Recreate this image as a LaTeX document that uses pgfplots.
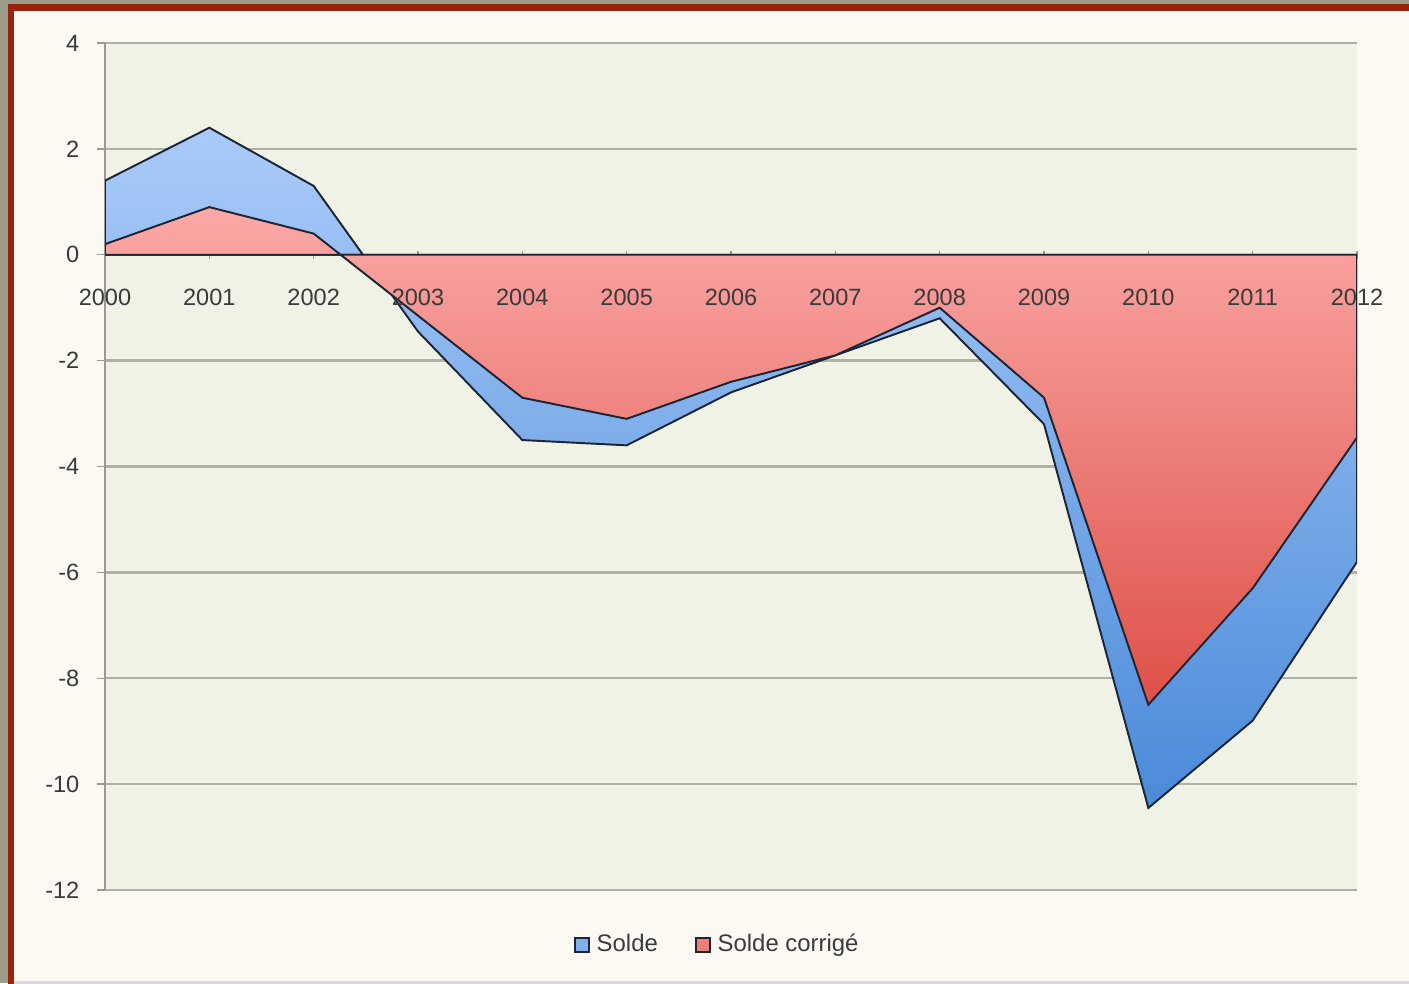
\documentclass[border=0pt]{standalone}
\usepackage{fontspec}
\setmainfont{Liberation Sans}
\usepackage{pgfplots}
\pgfplotsset{compat=1.18}
\definecolor{framegray}{HTML}{9C9B88}
\definecolor{framered}{HTML}{9A2310}
\definecolor{cream}{HTML}{FCF9F3}
\definecolor{plotbg}{HTML}{EFF2E4}
\definecolor{gridc}{HTML}{B0B0A6}
\definecolor{axisc}{HTML}{9A9A92}
\definecolor{tickc}{HTML}{3A3A3A}
\definecolor{bluetop}{HTML}{AACBF9}
\definecolor{bluebot}{HTML}{4A8AD8}
\definecolor{redtop}{HTML}{FBA9A7}
\definecolor{redbot}{HTML}{DE5048}
\definecolor{edgec}{HTML}{1B2533}
\definecolor{legblue}{HTML}{7FB0F0}
\definecolor{legred}{HTML}{F07C78}

\begin{document}
\begin{tikzpicture}
\useasboundingbox (0,0) rectangle (14.09,9.83);
\fill[framegray] (0,0) rectangle (14.2,9.9);
\fill[framered] (0.08,-0.1) rectangle (14.2,9.79);
\fill[black!15] (0.14,-0.1) rectangle (14.2,0.03);
\fill[cream] (0.14,0.025) rectangle (14.2,9.72);
\begin{axis}[
  at={(1.05cm,0.93cm)}, anchor=south west,
  scale only axis, width=12.52cm, height=8.47cm,
  xmin=2000, xmax=2012, ymin=-12, ymax=4,
  axis x line=middle, axis y line=left,
  x axis line style={-, draw=axisc, line width=0.6pt},
  y axis line style={-, draw=axisc, line width=0.5pt},
  axis background/.style={fill=plotbg},
  hide obscured x ticks=false, hide obscured y ticks=false,
  xtick={2000,2001,...,2012},
  xticklabels={},
  ytick={-12,-10,...,4},
  yticklabels={-12,-10,-8,-6,-4,-2,0,2,4},
  ymajorgrids, grid style={draw=gridc, line width=0.65pt},
  xtick align=center, ytick align=outside,
  major tick length=0.8mm,
  tick style={draw=axisc, line width=0.4pt},
  tick label style={font=\fontsize{6.7}{8}\selectfont, text=tickc},
  yticklabel style={anchor=east, inner sep=0pt, xshift=-1.7mm},
  legend image code/.code={\draw[#1] (0cm,-0.07cm) rectangle (0.14cm,0.07cm);},
  legend style={at={(0.491,-0.065)}, anchor=center, draw=none, fill=none,
    legend columns=2, font=\fontsize{6.8}{8}\selectfont, text=tickc,
    /tikz/every even column/.append style={column sep=3.0mm},
    legend cell align=left},
  after end axis/.code={
    \foreach \yr in {2000,2001,...,2012}{
      \node[anchor=center, inner sep=0pt, text=tickc, font=\fontsize{6.7}{8}\selectfont,
        yshift=-4.3mm] at (axis cs:\yr,0) {\yr};
    }
  },
]
\addplot[forget plot, draw=edgec, line width=0.55pt, top color=bluetop, bottom color=bluebot]
  coordinates {(2000,1.4) (2001,2.4) (2002,1.3) (2003,-1.45) (2004,-3.5) (2005,-3.6)
    (2006,-2.6) (2007,-1.9) (2008,-1.2) (2009,-3.2) (2010,-10.45) (2011,-8.8) (2012,-5.8)}
  \closedcycle;
\addplot[forget plot, draw=edgec, line width=0.55pt, top color=redtop, bottom color=redbot]
  coordinates {(2000,0.2) (2001,0.9) (2002,0.4) (2003,-1.15) (2004,-2.7) (2005,-3.1)
    (2006,-2.4) (2007,-1.9) (2008,-1.0) (2009,-2.7) (2010,-8.5) (2011,-6.3) (2012,-3.45)}
  \closedcycle;
\addlegendimage{fill=legblue, draw=edgec, line width=0.5pt}
\addlegendentry{Solde}
\addlegendimage{fill=legred, draw=edgec, line width=0.5pt}
\addlegendentry{Solde corrigé}
\end{axis}
\end{tikzpicture}
\end{document}
